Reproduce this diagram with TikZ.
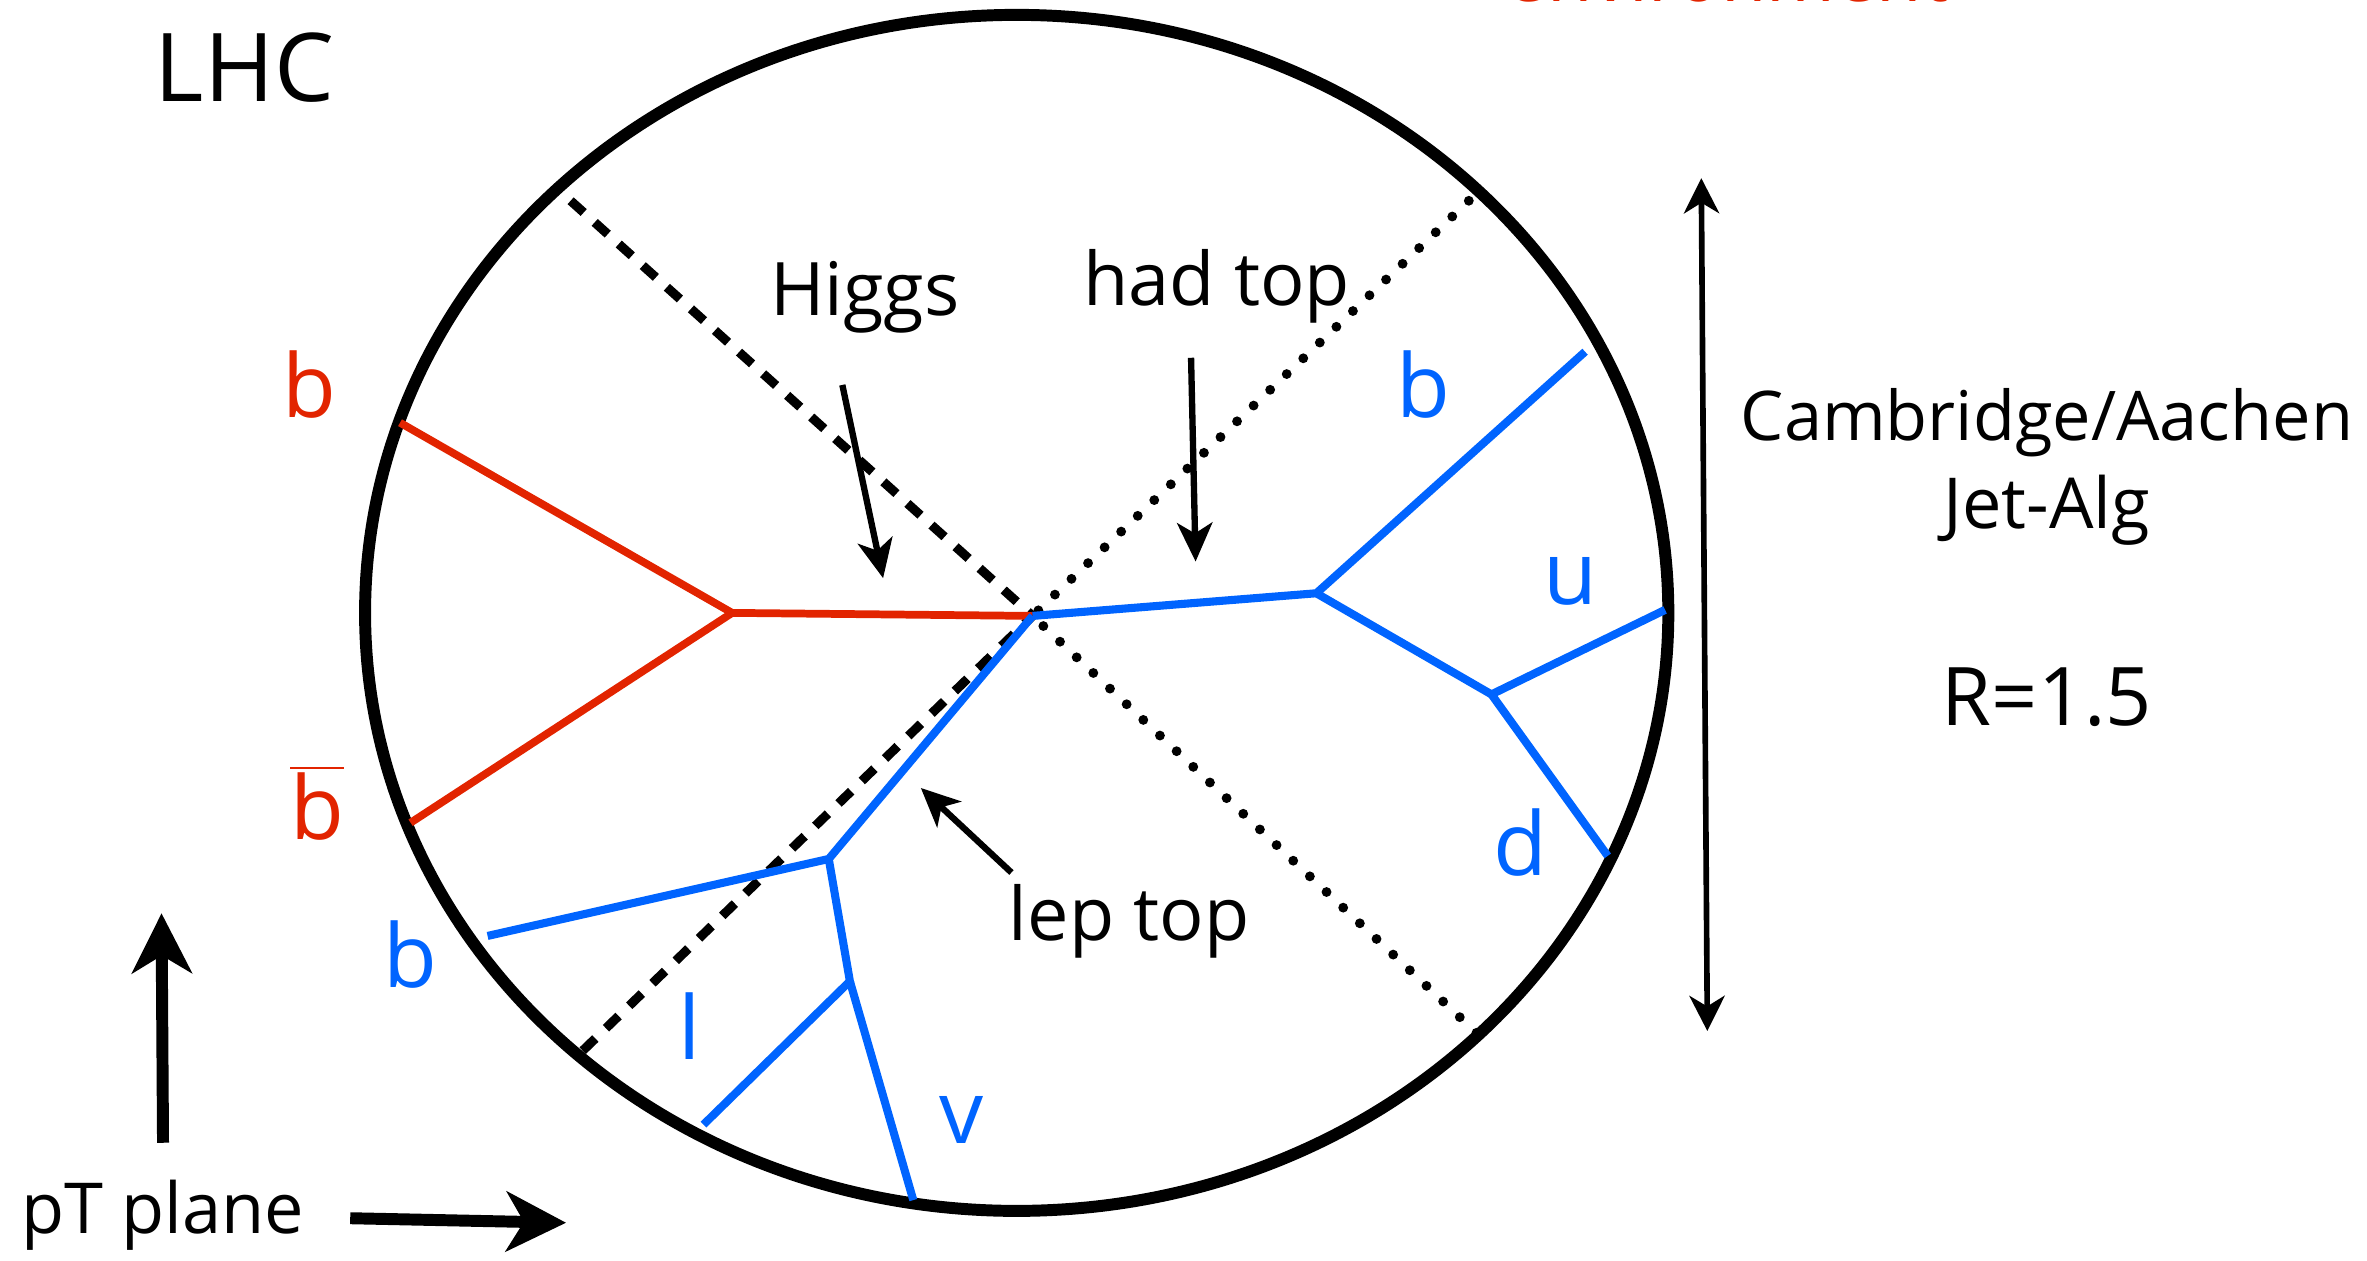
\documentclass[tikz,border=0pt]{standalone}
\usepackage{fontspec}
\setmainfont{Open Sans}
\usetikzlibrary{arrows.meta}
\definecolor{jred}{RGB}{226,36,0}
\definecolor{jblue}{RGB}{0,100,255}

\begin{document}
\begin{tikzpicture}[x=0.015096cm, y=-0.015096cm, line width=1.6pt,
    txt/.style={inner sep=0pt, font=\fontsize{21}{25}\selectfont},
    tag/.style={inner sep=0pt, font=\fontsize{25}{30}\selectfont},
    redjet/.style={jred, line width=2.2pt},
    bluejet/.style={jblue, line width=2.3pt},
    anno/.style={-{Stealth[length=11pt, width=10pt, inset=3pt]}, line width=1.8pt},
    conedash/.style={dash pattern=on 5pt off 4.2pt, line width=2.6pt},
    conedot/.style={dash pattern=on 0pt off 6.5pt, line cap=round, line width=2.8pt}]
  \useasboundingbox (0,0) rectangle (1568,835);

  % detector in the transverse plane
  \draw[line width=3.4pt] (673.5,406) ellipse [x radius=6.514cm, y radius=5.978cm];

  % cones
  \coordinate (ctr) at (684,408);
  \coordinate (c-tl) at (378,133);
  \coordinate (c-bl) at (385,697);
  \coordinate (c-tr) at (973,133);
  \coordinate (c-br) at (980,686);
  \draw[conedash] (c-tl) -- (ctr) -- (c-bl);
  \draw[conedot] (c-tr) -- (ctr) -- (c-br);

  % Higgs -> b bbar
  \coordinate (hbb) at (485,406);
  \coordinate (b1-end) at (265,280);
  \coordinate (b2-end) at (272,545);
  \draw[redjet] (ctr) -- (hbb) -- (b1-end);
  \draw[redjet] (hbb) -- (b2-end);

  % hadronic top
  \coordinate (thad) at (872,393);
  \coordinate (whad) at (988,460);
  \coordinate (bh-end) at (1050,233);
  \coordinate (u-end) at (1103,404);
  \coordinate (d-end) at (1065,567);
  \draw[bluejet] (ctr) -- (thad) -- (bh-end);
  \draw[bluejet] (thad) -- (whad) -- (u-end);
  \draw[bluejet] (whad) -- (d-end);

  % leptonic top
  \coordinate (tlep) at (549,569);
  \coordinate (wlep) at (563,650);
  \coordinate (bl-end) at (323,620);
  \coordinate (l-end) at (466,745);
  \coordinate (v-end) at (605,795);
  \draw[bluejet] (ctr) -- (tlep) -- (bl-end);
  \draw[bluejet] (tlep) -- (wlep) -- (l-end);
  \draw[bluejet] (wlep) -- (v-end);

  % particle labels
  \node[tag, jred] (lb1) at (205,255) {b};
  \node[tag, jred] (lb2) at (210,532) {$\overline{\mbox{b}}$};
  \node[tag, jblue] (lbh) at (943,255) {b};
  \node[tag, jblue] (lu) at (1040,385) {u};
  \node[tag, jblue] (ld) at (1007,558) {d};
  \node[tag, jblue] (lbl) at (272,632) {b};
  \node[tag, jblue] (ll) at (457,680) {l};
  \node[tag, jblue] (lv) at (637,742) {v};

  % annotations
  \node[txt, font=\fontsize{27}{32}\selectfont] (lhc) at (162,45) {LHC};
  \node[txt, jred, anchor=base] (env) at (1144,0.8) {environment};
  \node[txt] (higgs) at (573,197) {Higgs};
  \node[txt] (hadtop) at (806,190) {had top};
  \node[txt] (leptop) at (748,610) {lep top};
  \coordinate (higgs-s) at (558,255);
  \coordinate (higgs-t) at (585,383);
  \coordinate (had-s) at (789,237);
  \coordinate (had-t) at (792,372);
  \coordinate (lep-s) at (670,578);
  \coordinate (lep-t) at (610,522);
  \draw[anno] (higgs-s) -- (higgs-t);
  \draw[anno] (had-s) -- (had-t);
  \draw[anno] (lep-s) -- (lep-t);

  % jet algorithm
  \coordinate (r-top) at (1127,118);
  \coordinate (r-bot) at (1131,683);
  \draw[{Stealth[length=10pt, width=10pt, inset=3pt]}-{Stealth[length=10pt, width=10pt, inset=3pt]}, line width=1.6pt] (r-top) -- (r-bot);
  \node[txt, font=\fontsize{19.5}{24}\selectfont] (ca) at (1356,280) {Cambridge/Aachen};
  \node[txt, font=\fontsize{20}{24}\selectfont] (alg) at (1356,338) {Jet-Alg};
  \node[txt, font=\fontsize{23}{28}\selectfont] (rad) at (1356,462) {R=1.5};

  % pT plane axes
  \node[txt, font=\fontsize{20}{24}\selectfont] (ptp) at (108,805) {pT plane};
  \coordinate (up-s) at (108,757);
  \coordinate (up-t) at (107,605);
  \coordinate (rt-s) at (232,807);
  \coordinate (rt-t) at (375,810);
  \draw[-{Stealth[length=17pt, width=17pt, inset=5pt]}, line width=3.4pt] (up-s) -- (up-t);
  \draw[-{Stealth[length=17pt, width=17pt, inset=5pt]}, line width=3.4pt] (rt-s) -- (rt-t);
\end{tikzpicture}
\end{document}
